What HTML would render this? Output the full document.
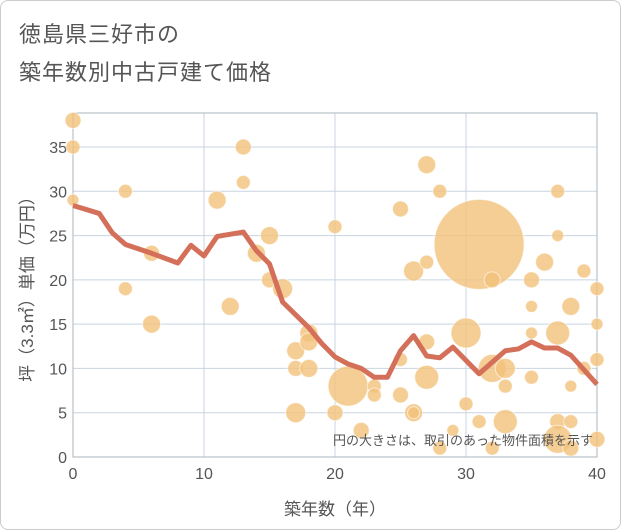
<!DOCTYPE html>
<html><head><meta charset="utf-8"><style>
body{margin:0;background:#fff;font-family:"Liberation Sans","Noto Sans CJK JP",sans-serif;}
#wrap{position:relative;width:619px;height:528px;border:1px solid #ccc;border-radius:8px;overflow:hidden;}
.t{position:absolute;left:18px;color:#555;font-size:22px;letter-spacing:1px;}
</style></head><body>
<div id="wrap">
<div class="t" style="top:16px">徳島県三好市の</div>
<div class="t" style="top:54px">築年数別中古戸建て価格</div>
<svg id="svg" width="621" height="530" style="position:absolute;left:0;top:0"></svg>
</div>
<script>
const lineX=[0,2,3,4,6,8,9,10,11,13,14,15,16,18,19,20,21,22,23,24,25,26,27,28,29,31,33,34,35,36,37,38,40];
const lineY=[28.4,27.5,25.3,24,23,21.9,23.9,22.7,24.9,25.4,23.3,21.8,17.5,14.6,12.8,11.3,10.5,10,9,9,12,13.7,11.4,11.2,12.4,9.4,12,12.2,13,12.3,12.3,11.5,8.2];
const bubX=[0,0,0,4,4,6,6,11,12,13,13,14,15,15,16,17,17,17,18,18,18,20,20,21,22,23,23,25,25,25,26,26,26,27,27,27,27,28,28,29,30,30,31,31,32,32,32,33,33,33,35,35,35,35,36,37,37,37,37,37,38,38,38,38,39,39,40,40,40,40];
const bubY=[38,35,29,30,19,23,15,29,17,35,31,23,25,20,19,12,10,5,14,13,10,26,5,8,3,8,7,28,11,7,21,5,5,33,22,13,9,30,1,3,14,6,24,4,20,10,1,10,8,4,20,17,14,9,22,30,25,14,4,2,17,8,4,1,21,10,19,15,11,2];
const bubArea=[64,49,36,49,49,64,81,81,81,64,49,81,81,64,100,81,64,100,81,81,81,49,64,400,64,49,49,64,49,64,100,81,36,81,49,64,144,49,49,36,225,49,2025,49,64,196,49,100,49,144,64,36,36,49,81,49,36,144,64,196,81,36,49,64,49,49,49,36,49,64];
const xTicks=[0,10,20,30,40];
const yTicks=[0,5,10,15,20,25,30,35];
const X0=72,X1=596,Y0=456,YT=112;
const sx=v=>X0+(v/40)*(X1-X0);
const sy=v=>Y0-v*(Y0-146)/35;
const svg=document.getElementById('svg');const NS='http://www.w3.org/2000/svg';
function mk(t,a,p){const e=document.createElementNS(NS,t);for(const k in a)e.setAttribute(k,a[k]);(p||svg).appendChild(e);return e;}
const grid=mk('g',{});


yTicks.forEach(v=>{const l=mk('line',{x1:X0,x2:X1,y1:sy(v),y2:sy(v),stroke:'#c8d4e0','stroke-width':1},grid);


const t=mk('text',{x:X0-6,y:sy(v)+6,'text-anchor':'end','font-size':16,fill:'#555'});t.textContent=v;

});
xTicks.forEach(v=>{const l=mk('line',{x1:sx(v),x2:sx(v),y1:YT,y2:Y0,stroke:'#c8d4e0','stroke-width':1},grid);


const t=mk('text',{x:sx(v),y:Y0+22,'text-anchor':'middle','font-size':16,fill:'#555'});t.textContent=v;

});
const fr=mk('rect',{x:X0,y:YT,width:X1-X0,height:Y0-YT,fill:'none',stroke:'#aab4be'});


const bg=mk('g',{});


bubX.forEach((x,i)=>{const c=mk('circle',{cx:sx(x),cy:sy(bubY[i]),r:Math.sqrt(bubArea[i]),fill:'#f3c27a','fill-opacity':0.8,stroke:'#fff','stroke-opacity':0.6,'stroke-width':1},bg);

});
const pl=mk('polyline',{points:lineX.map((x,i)=>sx(x)+','+sy(lineY[i])).join(' '),fill:'none',stroke:'#d4705a','stroke-width':5,'stroke-linejoin':'round'});


const note=mk('text',{x:592,y:444,'text-anchor':'end','font-size':13,fill:'#555'});note.textContent='円の大きさは、取引のあった物件面積を示す';


const xt=mk('text',{x:sx(20),y:514,'text-anchor':'middle','font-size':17,fill:'#555'});xt.textContent='築年数（年）';


const yt=mk('text',{x:0,y:0,'text-anchor':'middle','font-size':17,fill:'#555',transform:'translate(32,'+((YT+Y0)/2)+') rotate(-90)'});yt.textContent='坪（3.3㎡）単価（万円）';


</script>
</body></html>
